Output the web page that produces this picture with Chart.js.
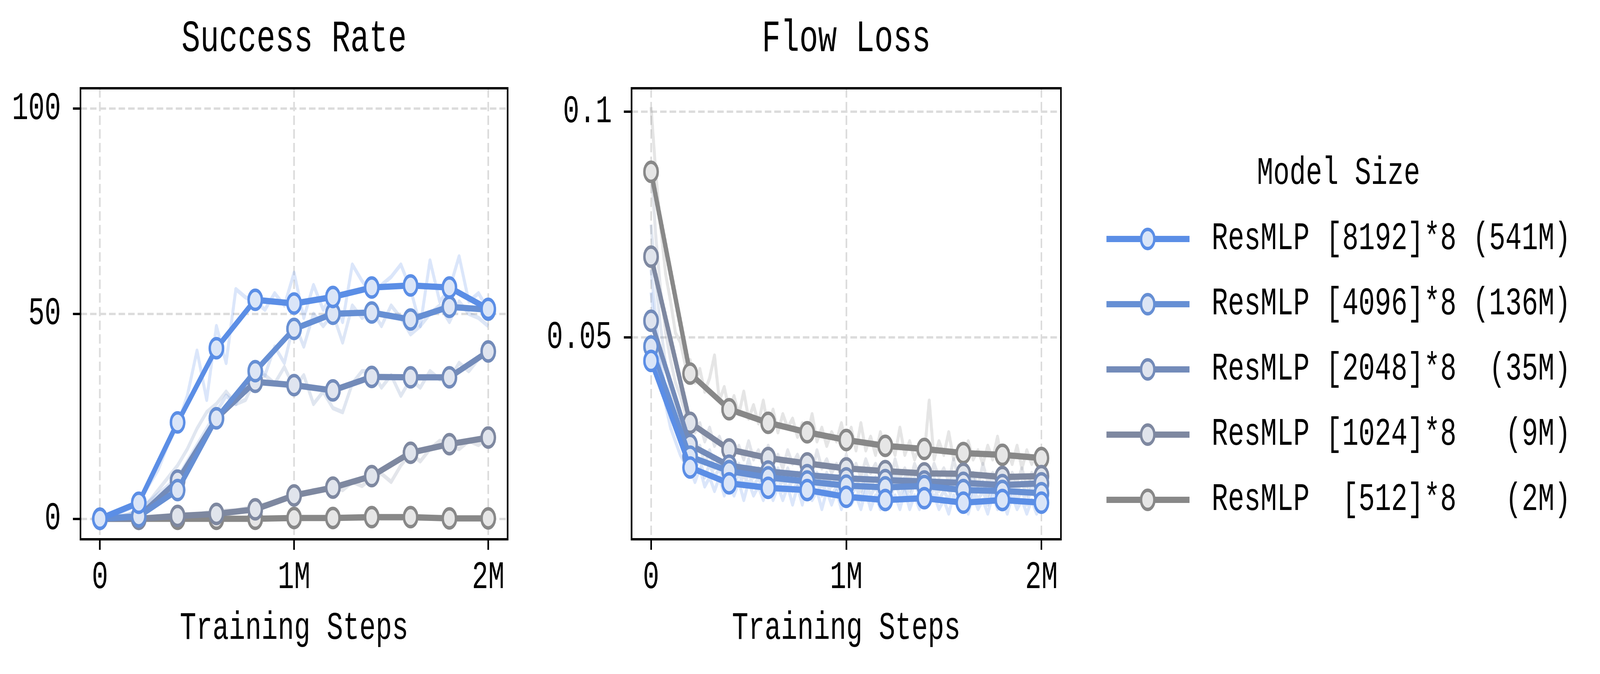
<!DOCTYPE html>
<html>
<head>
<meta charset="utf-8">
<title>Success Rate / Flow Loss</title>
<script src="https://cdn.jsdelivr.net/npm/chart.js@4.4.1/dist/chart.umd.min.js"></script>
<style>
  html, body { margin: 0; padding: 0; background: #fff; overflow: hidden; }
  #page {
    width: 5883px; height: 1726px; position: absolute; left: 0; top: 0;
    transform-origin: 0 0;
    font-family: "Liberation Mono", "DejaVu Sans Mono", monospace; color: #000;
  }
  canvas { position: absolute; top: 0; }
  #successChart { left: 0; }
  #lossChart { left: 1900px; }
  #legend { position: absolute; left: 4068px; top: 0; width: 1760px; height: 1726px; }
  .legend-title {
    position: absolute; left: 0; width: 1707px; text-align: center;
    font-size: 100px; line-height: 120px; white-space: pre;
  }
  .legend-row { position: absolute; left: 0; height: 120px; display: flex; align-items: center; }
  .legend-row span { white-space: pre; font-size: 100px; line-height: 120px; margin-left: 81px; }
</style>
</head>
<body>
<div id="page">
  <canvas id="successChart" width="1900" height="1726" style="width:1900px;height:1726px"></canvas>
  <canvas id="lossChart" width="2060" height="1726" style="width:2060px;height:1726px"></canvas>
  <div id="legend"></div>
</div>

<script>
// ---- data (training steps in millions) ----
const steps = [0, 0.2, 0.4, 0.6, 0.8, 1.0, 1.2, 1.4, 1.6, 1.8, 2.0];
const evalSteps = [0, 0.05, 0.1, 0.15, 0.2, 0.25, 0.3, 0.35, 0.4, 0.45, 0.5, 0.55, 0.6, 0.65, 0.7,
  0.75, 0.8, 0.85, 0.9, 0.95, 1.0, 1.05, 1.1, 1.15, 1.2, 1.25, 1.3, 1.35, 1.4, 1.45, 1.5,
  1.55, 1.6, 1.65, 1.7, 1.75, 1.8, 1.85, 1.9, 1.95, 2.0];
const logSteps = [0, 0.025, 0.05, 0.075, 0.1, 0.125, 0.15, 0.175, 0.2, 0.225, 0.25, 0.275, 0.3,
  0.325, 0.35, 0.375, 0.4, 0.425, 0.45, 0.475, 0.5, 0.525, 0.55, 0.575, 0.6, 0.625, 0.65, 0.675,
  0.7, 0.725, 0.75, 0.775, 0.8, 0.825, 0.85, 0.875, 0.9, 0.925, 0.95, 0.975, 1.0, 1.025, 1.05,
  1.075, 1.1, 1.125, 1.15, 1.175, 1.2, 1.225, 1.25, 1.275, 1.3, 1.325, 1.35, 1.375, 1.4, 1.425,
  1.45, 1.475, 1.5, 1.525, 1.55, 1.575, 1.6, 1.625, 1.65, 1.675, 1.7, 1.725, 1.75, 1.775, 1.8,
  1.825, 1.85, 1.875, 1.9, 1.925, 1.95, 1.975, 2.0];

const xTicks = [0, 1, 2];
const xTickLabels = ["0", "1M", "2M"];
const successTicks = [0, 50, 100];
const successTickLabels = ["0", "50", "100"];
const lossTicks = [0.05, 0.1];
const lossTickLabels = ["0.05", "0.1"];

const modelNames = [
  "ResMLP [8192]*8 (541M)",
  "ResMLP [4096]*8 (136M)",
  "ResMLP [2048]*8  (35M)",
  "ResMLP [1024]*8   (9M)",
  "ResMLP  [512]*8   (2M)"
];
const lineColors = ["#5b8ee6", "#668fd4", "#738bb9", "#7e88a0", "#888888"];
const fillColors = ["#dae5f8", "#dce5f5", "#dfe4ef", "#e0e4ec", "#e6e6e6"];
const rawColors = ["rgba(91,142,230,0.22)", "rgba(102,143,212,0.22)", "rgba(115,139,185,0.22)",
  "rgba(126,136,160,0.22)", "rgba(136,136,136,0.22)"];

// success rate, checkpoint means
const success8192 = [0, 3.9, 23.5, 41.6, 53.4, 52.5, 54.1, 56.4, 56.9, 56.4, 51.2];
const success4096 = [0, 0.6, 7.0, 24.5, 36.0, 46.3, 50.0, 50.3, 48.6, 51.7, 51.0];
const success2048 = [0, 0.5, 9.3, 24.5, 33.4, 32.6, 31.3, 34.6, 34.5, 34.5, 40.8];
const success1024 = [0, 0, 0.7, 1.2, 2.3, 5.7, 7.6, 10.4, 16.1, 18.2, 19.8];
const success512 = [0, 0, 0, 0, 0, 0.2, 0.2, 0.4, 0.4, 0.1, 0.1];

// success rate, raw evaluations
const successRaw8192 = [0, 0.5, 1.5, 2.5, 4, 8, 12, 18, 23, 30, 41, 29, 47, 38, 56, 54, 53, 51, 55, 52,
  60, 49, 57, 51, 55, 48, 62, 58, 55, 57, 59, 62, 56, 47, 63, 53, 56, 64, 53, 55, 51];
const successRaw4096 = [0, 0.2, 0.5, 1, 2, 4, 6, 8, 10, 14, 18, 22, 26, 30, 28, 33, 38, 35, 42, 38,
  48, 42, 50, 47, 50, 43, 52, 49, 51, 47, 52, 49, 45, 47, 50, 52, 48, 53, 50, 49, 47];
const successRaw2048 = [0, 0.2, 0.5, 1, 2, 4, 7, 10, 13, 17, 22, 26, 28, 31, 28, 29, 34, 35, 33, 37,
  32, 35, 28, 31, 27, 26, 33, 36, 36, 32, 35, 30, 34, 32, 36, 34, 34, 38, 36, 39, 41];
const successRaw1024 = [0, 0, 0, 0, 0, 0.3, 0.5, 0.5, 1, 1, 1, 1.5, 1.5, 2, 2, 2.5, 3, 3.5, 4, 5,
  6, 6, 7, 7, 8, 7, 9, 8, 10, 11, 9, 13, 16, 14, 17, 19, 18, 17, 19, 18, 20];
const successRaw512 = [0, 0, 0, 0, 0, 0, 0, 0, 0, 0, 0, 0, 0.3, 0, 0, 0, 0, 0, 0, 0.3,
  0, 0, 0, 0, 0.3, 0, 0, 0, 0.3, 0, 0, 0, 0.3, 0, 0, 0, 0, 0, 0, 0, 0];

// flow loss, checkpoint means
const loss8192 = [0.0448, 0.0212, 0.0177, 0.0167, 0.0162, 0.0147, 0.0140, 0.0144, 0.0134, 0.0140, 0.0134];
const loss4096 = [0.0480, 0.0236, 0.0204, 0.0190, 0.0181, 0.0172, 0.0168, 0.0171, 0.0162, 0.0160, 0.0155];
const loss2048 = [0.0537, 0.0262, 0.0216, 0.0203, 0.0195, 0.0188, 0.0184, 0.0181, 0.0178, 0.0173, 0.0177];
const loss1024 = [0.0679, 0.0311, 0.0252, 0.0233, 0.0221, 0.0210, 0.0204, 0.0199, 0.0198, 0.0191, 0.0193];
const loss512 = [0.0867, 0.0420, 0.0341, 0.0311, 0.0290, 0.0273, 0.0260, 0.0253, 0.0244, 0.0240, 0.0233];

// flow loss, raw logging
const lossRaw8192 = [0.060, 0.050, 0.042, 0.035, 0.030, 0.027, 0.024, 0.022, 0.021, 0.018,
  0.021, 0.017, 0.019, 0.016, 0.019, 0.015, 0.018, 0.015, 0.018, 0.014,
  0.018, 0.015, 0.017, 0.014, 0.018, 0.014, 0.017, 0.014, 0.017, 0.013,
  0.017, 0.013, 0.018, 0.014, 0.016, 0.012, 0.016, 0.013, 0.016, 0.012,
  0.016, 0.013, 0.015, 0.012, 0.016, 0.012, 0.015, 0.012, 0.016, 0.013,
  0.015, 0.012, 0.016, 0.012, 0.015, 0.012, 0.016, 0.013, 0.015, 0.012,
  0.014, 0.011, 0.015, 0.012, 0.014, 0.011, 0.015, 0.012, 0.014, 0.011,
  0.015, 0.012, 0.014, 0.011, 0.015, 0.012, 0.014, 0.011, 0.014, 0.011, 0.013];
const lossRaw4096 = [0.065, 0.054, 0.045, 0.038, 0.033, 0.030, 0.027, 0.025, 0.024, 0.021,
  0.023, 0.019, 0.022, 0.019, 0.021, 0.018, 0.021, 0.017, 0.020, 0.017,
  0.020, 0.017, 0.019, 0.016, 0.020, 0.016, 0.019, 0.016, 0.019, 0.016,
  0.018, 0.015, 0.019, 0.016, 0.018, 0.015, 0.018, 0.015, 0.017, 0.015,
  0.019, 0.015, 0.017, 0.014, 0.018, 0.015, 0.017, 0.014, 0.017, 0.014,
  0.018, 0.015, 0.017, 0.014, 0.018, 0.015, 0.018, 0.014, 0.017, 0.014,
  0.016, 0.014, 0.018, 0.014, 0.016, 0.013, 0.017, 0.014, 0.016, 0.013,
  0.017, 0.014, 0.016, 0.013, 0.017, 0.014, 0.016, 0.013, 0.017, 0.014, 0.015];
const lossRaw2048 = [0.075, 0.062, 0.052, 0.044, 0.038, 0.034, 0.031, 0.028, 0.027, 0.024,
  0.026, 0.022, 0.025, 0.021, 0.023, 0.020, 0.023, 0.020, 0.022, 0.019,
  0.023, 0.019, 0.021, 0.018, 0.022, 0.019, 0.021, 0.018, 0.021, 0.018,
  0.020, 0.017, 0.021, 0.018, 0.020, 0.017, 0.020, 0.017, 0.019, 0.017,
  0.021, 0.017, 0.019, 0.016, 0.020, 0.017, 0.019, 0.016, 0.019, 0.016,
  0.020, 0.017, 0.019, 0.016, 0.019, 0.016, 0.020, 0.016, 0.019, 0.016,
  0.018, 0.016, 0.020, 0.016, 0.018, 0.015, 0.019, 0.016, 0.018, 0.015,
  0.019, 0.016, 0.018, 0.015, 0.019, 0.016, 0.018, 0.015, 0.019, 0.016, 0.018];
const lossRaw1024 = [0.088, 0.072, 0.060, 0.051, 0.045, 0.040, 0.037, 0.033, 0.032, 0.029,
  0.031, 0.027, 0.030, 0.026, 0.028, 0.025, 0.027, 0.024, 0.026, 0.023,
  0.027, 0.023, 0.025, 0.022, 0.026, 0.022, 0.024, 0.021, 0.025, 0.022,
  0.024, 0.021, 0.023, 0.020, 0.025, 0.021, 0.023, 0.020, 0.022, 0.019,
  0.024, 0.020, 0.022, 0.019, 0.023, 0.020, 0.022, 0.019, 0.021, 0.018,
  0.023, 0.019, 0.021, 0.018, 0.022, 0.019, 0.021, 0.018, 0.022, 0.019,
  0.021, 0.018, 0.023, 0.019, 0.021, 0.018, 0.020, 0.017, 0.022, 0.018,
  0.020, 0.018, 0.021, 0.017, 0.020, 0.018, 0.021, 0.017, 0.020, 0.018, 0.019];
const lossRaw512 = [0.101, 0.086, 0.074, 0.064, 0.058, 0.051, 0.049, 0.044, 0.045, 0.040,
  0.043, 0.038, 0.041, 0.046, 0.036, 0.039, 0.034, 0.037, 0.033, 0.038,
  0.032, 0.035, 0.031, 0.036, 0.030, 0.034, 0.029, 0.033, 0.030, 0.032,
  0.028, 0.031, 0.028, 0.033, 0.027, 0.030, 0.026, 0.029, 0.027, 0.031,
  0.026, 0.030, 0.025, 0.031, 0.025, 0.028, 0.024, 0.029, 0.025, 0.027,
  0.024, 0.030, 0.024, 0.027, 0.023, 0.026, 0.024, 0.036, 0.023, 0.027,
  0.024, 0.029, 0.023, 0.026, 0.022, 0.027, 0.023, 0.025, 0.022, 0.026,
  0.023, 0.028, 0.022, 0.025, 0.022, 0.026, 0.021, 0.025, 0.022, 0.024, 0.021];

// ---- chart setup ----
const FAMILY = '"Liberation Mono", "DejaVu Sans Mono", monospace';
const tickFont = { family: FAMILY, size: 100, weight: "normal", lineHeight: 1.2 };
const titleFont = { family: FAMILY, size: 115, weight: "normal", lineHeight: 1.2 };
Chart.defaults.font.family = FAMILY;
Chart.defaults.color = "#000";

// matplotlib style box round the plot area
const framePlugin = {
  id: "frame",
  afterDraw(chart) {
    const { ctx, chartArea: a } = chart;
    ctx.save();
    ctx.strokeStyle = "#000";
    ctx.lineWidth = 6;
    ctx.strokeRect(a.left, a.top, a.right - a.left, a.bottom - a.top);
    ctx.restore();
  }
};

function makeDatasets(mainSeries, rawSeries, rawSteps) {
  const sets = [];
  mainSeries.forEach((vals, i) => {
    sets.push({
      label: modelNames[i],
      data: vals.map((v, j) => ({ x: steps[j], y: v })),
      borderColor: lineColors[i],
      borderWidth: 16,
      borderJoinStyle: "round",
      pointRadius: 24.5,
      pointBorderWidth: 9,
      pointBackgroundColor: fillColors[i],
      pointBorderColor: lineColors[i],
      order: 0
    });
  });
  rawSeries.forEach((vals, i) => {
    sets.push({
      label: modelNames[i] + " raw",
      data: vals.map((v, j) => ({ x: rawSteps[j], y: v })),
      borderColor: rawColors[i],
      borderWidth: 11,
      borderJoinStyle: "round",
      pointRadius: 0,
      order: 1
    });
  });
  return sets;
}

function makeScales(yMin, yMax, yTicks, yLabels, yWidth) {
  return {
    x: {
      type: "linear",
      min: -0.1,
      max: 2.1,
      afterBuildTicks: s => { s.ticks = xTicks.map(v => ({ value: v })); },
      afterFit: s => { s.height = 345; },
      ticks: {
        callback: (v, i) => xTickLabels[i],
        font: tickFont, color: "#000", padding: 12, autoSkip: false, maxRotation: 0
      },
      grid: { color: "#dcdcdc", lineWidth: 6, tickColor: "#000", tickWidth: 6, tickLength: 27 },
      border: { display: false, dash: [24, 11] },
      title: { display: true, text: "Training Steps", font: tickFont, color: "#000", padding: { top: 0, bottom: 56 } }
    },
    y: {
      type: "linear",
      min: yMin,
      max: yMax,
      afterBuildTicks: s => { s.ticks = yTicks.map(v => ({ value: v })); },
      afterFit: s => { s.width = yWidth; },
      ticks: {
        callback: (v, i) => yLabels[i],
        font: tickFont, color: "#000", padding: 44, autoSkip: false
      },
      grid: { color: "#dcdcdc", lineWidth: 6, tickColor: "#000", tickWidth: 6, tickLength: 28 },
      border: { display: false, dash: [24, 11] }
    }
  };
}

function makeChart(id, title, datasets, scales, rightPad) {
  return new Chart(document.getElementById(id).getContext("2d"), {
    type: "line",
    data: { datasets: datasets },
    options: {
      responsive: false,
      animation: false,
      events: [],
      devicePixelRatio: 1,
      layout: { padding: { left: 0, right: rightPad, top: 0, bottom: 0 } },
      scales: scales,
      plugins: {
        legend: { display: false },
        tooltip: { enabled: false },
        title: {
          display: true, text: title, font: titleFont, color: "#000",
          fullSize: false, padding: { top: 32, bottom: 56 }
        }
      }
    },
    plugins: [framePlugin]
  });
}

makeChart("successChart", "Success Rate",
  makeDatasets([success8192, success4096, success2048, success1024, success512],
               [successRaw8192, successRaw4096, successRaw2048, successRaw1024, successRaw512], evalSteps),
  makeScales(-5, 105, successTicks, successTickLabels, 296), 20);

makeChart("lossChart", "Flow Loss",
  makeDatasets([loss8192, loss4096, loss2048, loss1024, loss512],
               [lossRaw8192, lossRaw4096, lossRaw2048, lossRaw1024, lossRaw512], logSteps),
  makeScales(0.0053, 0.1052, lossTicks, lossTickLabels, 422), 59);

// ---- legend (html, right side) ----
const legend = document.getElementById("legend");
const legendTitle = document.createElement("div");
legendTitle.className = "legend-title";
legendTitle.textContent = "Model Size";
legendTitle.style.top = (445 - 60) + "px";
legend.appendChild(legendTitle);

modelNames.forEach((name, i) => {
  const row = document.createElement("div");
  row.className = "legend-row";
  row.style.top = (445 + 167 * (i + 1) - 60) + "px";
  row.innerHTML =
    '<svg width="306" height="70" viewBox="0 0 306 70">' +
    '<line x1="0" y1="35" x2="306" y2="35" stroke="' + lineColors[i] + '" stroke-width="16"/>' +
    '<circle cx="152" cy="35" r="24.5" fill="' + fillColors[i] + '" stroke="' + lineColors[i] + '" stroke-width="9"/>' +
    '</svg>';
  const label = document.createElement("span");
  label.textContent = name;
  row.appendChild(label);
  legend.appendChild(row);
});

// the 5883 x 1726 layout is stretched to fill whatever viewport the page gets
const sx = window.innerWidth / 5883;
const sy = window.innerHeight / 1726;
document.getElementById("page").style.transform = "scale(" + sx + "," + sy + ")";
</script>
</body>
</html>
